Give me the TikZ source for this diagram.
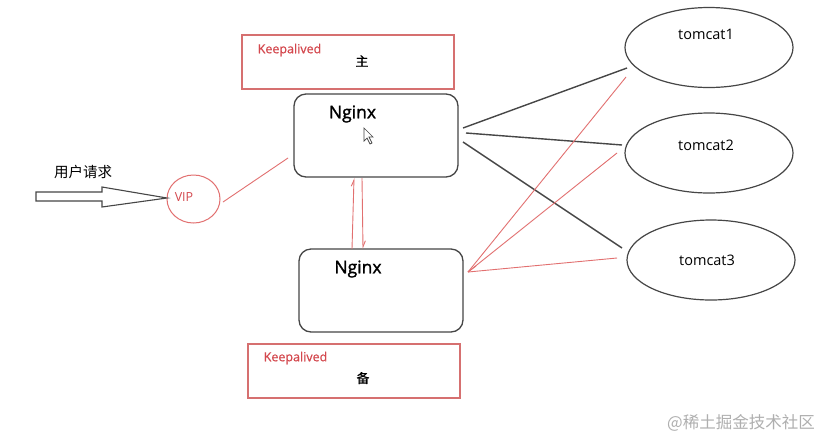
\documentclass[tikz,border=0pt]{standalone}
\usepackage{fontspec}
\setmainfont{Open Sans}
\newfontfamily\cjk{Noto Sans CJK SC}
\newfontfamily\semib{Open Sans}[FakeBold=1.5]
\newfontfamily\lightb{Open Sans}[FakeBold=0.5]
\newfontfamily\cjkb{Noto Sans CJK SC}[FakeBold=0.5]
\usetikzlibrary{shapes.geometric,arrows.meta}
\definecolor{kred}{RGB}{212,72,78}
\definecolor{kline}{RGB}{226,112,112}
\definecolor{kbox}{RGB}{214,112,112}
\definecolor{kgray}{RGB}{70,70,70}
\definecolor{kmark}{RGB}{175,175,175}
\tikzset{
  kabox/.style={draw=kbox, line width=1.1pt, minimum width=212pt, minimum height=54pt, inner sep=0pt},
  ngbox/.style={draw=kgray, line width=1.3pt, rounded corners=12pt, minimum width=164pt, minimum height=83pt, inner sep=0pt},
  tcell/.style={draw=kgray, line width=1.2pt, ellipse, minimum width=168pt, minimum height=80pt, inner sep=0pt},
  blk/.style={draw=kgray, line width=1.4pt},
  redl/.style={draw=kline, line width=0.9pt},
  lbl/.style={inner sep=0pt, anchor=center},
}
\begin{document}
\begin{tikzpicture}[x=1pt,y=-1pt]
\useasboundingbox[fill=white] (0,0) rectangle (826,440);
% Keepalived boxes
\node[kabox] (ka1) at (348,62) {};
\node[lbl, text=kred, font=\lightb\fontsize{12.5}{14}\selectfont] (ka1t) at (289.5,50) {Keepalived};
\node[lbl, font=\cjkb\fontsize{13}{14}\selectfont] (ka1m) at (362,61) {主};
\node[kabox] (ka2) at (354,371) {};
\node[lbl, text=kred, font=\lightb\fontsize{12.5}{14}\selectfont] (ka2t) at (295.5,358) {Keepalived};
\node[lbl, font=\cjkb\fontsize{13}{14}\selectfont] (ka2m) at (363,378) {备};
% Nginx boxes
\node[ngbox] (ng1) at (376,135.5) {};
\node[lbl, font=\semib\fontsize{17.5}{20}\selectfont] (ng1t) at (352.5,114) {Nginx};
\node[ngbox] (ng2) at (381,290.5) {};
\node[lbl, font=\semib\fontsize{17.5}{20}\selectfont] (ng2t) at (358,269) {Nginx};
% cursor
\draw[kgray, fill=white, line width=0.7pt] (364,128) -- (364,141) -- (367,138) -- (370,144) -- (372,143) -- (369,137) -- (373,137) -- cycle;
% tomcats
\node[tcell] (t1) at (709,47.5) {};
\node[lbl, font=\fontsize{14.5}{16}\selectfont] (t1t) at (706,34) {tomcat1};
\node[tcell] (t2) at (709,153) {};
\node[lbl, font=\fontsize{14.5}{16}\selectfont] (t2t) at (706,145) {tomcat2};
\node[tcell] (t3) at (711,260) {};
\node[lbl, font=\fontsize{14.5}{16}\selectfont] (t3t) at (707,260) {tomcat3};
% VIP
\node[draw=kline, line width=1pt, ellipse, minimum width=53pt, minimum height=48pt, inner sep=0pt] (vip) at (193.5,199) {};
\node[lbl, text=kred, font=\fontsize{12.5}{14}\selectfont] (vipt) at (184,197) {VIP};
% user request arrow
\node[lbl, font=\cjk\fontsize{14.5}{16}\selectfont] (req) at (83,172) {用户请求};
\draw[kgray, line width=1.1pt, fill=white] (36,192) -- (102,192) -- (102,187) -- (167,198) -- (102,207) -- (102,201) -- (36,201) -- cycle;
% VIP to nginx
\coordinate (v1) at (223,202);
\coordinate (n1l) at (288,158);
\draw[redl] (v1) -- (n1l);
% nginx heartbeat arrows
\coordinate (h1a) at (352,249);
\coordinate (h1b) at (354,178);
\coordinate (h2a) at (362,178);
\coordinate (h2b) at (363,249);
\draw[redl, -{Straight Barb[left, length=6pt, width=5pt]}] (h1a) -- (h1b);
\draw[redl, -{Straight Barb[left, length=6pt, width=5pt]}] (h2a) -- (h2b);
% black lines from master nginx
\coordinate (b1s) at (463,128);
\coordinate (b2s) at (466,133);
\coordinate (b3s) at (463,142);
\coordinate (b1e) at (627,68);
\coordinate (b2e) at (622,145);
\coordinate (b3e) at (622,248);
\draw[blk] (b1s) -- (b1e);
\draw[blk] (b2s) -- (b2e);
\draw[blk] (b3s) -- (b3e);
% red lines to backup nginx
\coordinate (rc) at (468,272);
\coordinate (r1) at (626,77);
\coordinate (r2) at (617,153);
\coordinate (r3) at (617,258);
\draw[redl] (r1) -- (rc);
\draw[redl] (r2) -- (rc);
\draw[redl] (r3) -- (rc);
\draw[redl] (rc) -- (476,266);
% watermark
\node[lbl, text=kmark, font=\cjk\fontsize{16.5}{18}\selectfont] (wm) at (741,423) {@稀土掘金技术社区};
\end{tikzpicture}
\end{document}
